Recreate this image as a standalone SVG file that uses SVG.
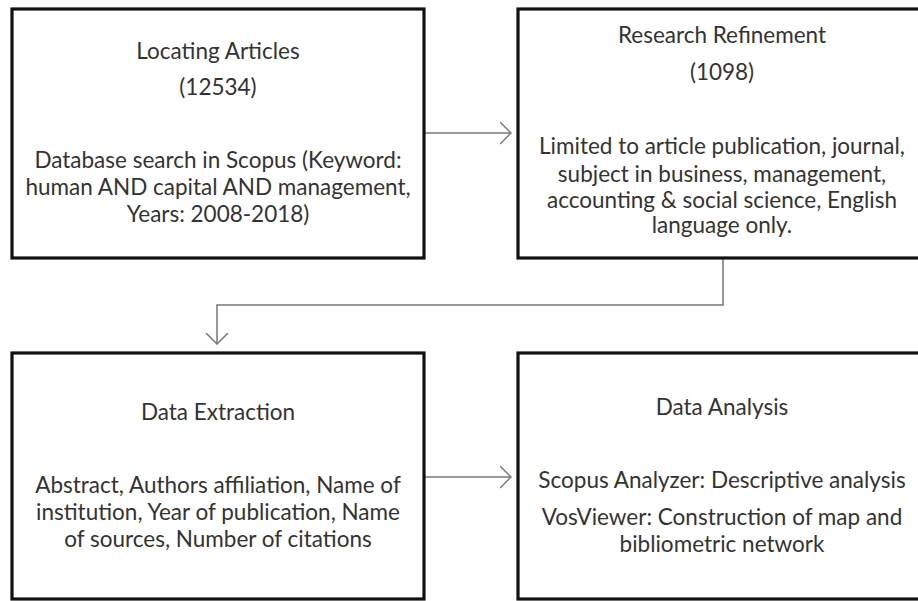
<svg xmlns="http://www.w3.org/2000/svg" width="918" height="601" viewBox="0 0 918 601">
<style>
.box{fill:#ffffff;stroke:#111111;stroke-width:3.2}
.t{font-family:Lato,"Liberation Sans",sans-serif;font-size:22.5px;fill:#333333;text-anchor:middle}
.c{fill:none;stroke:#777777;stroke-width:1.5}
</style>
<defs>
<marker id="ah" viewBox="0 0 12 24" refX="11" refY="12" markerWidth="12" markerHeight="24" markerUnits="userSpaceOnUse" orient="auto">
<path d="M0,1 L11,12 L0,23" fill="none" stroke="#777777" stroke-width="1.5"/>
</marker>
</defs>
<rect width="918" height="601" fill="#ffffff"/>
<g id="connectors">
<path class="c" d="M424,133 L511,133" marker-end="url(#ah)"/>
<path class="c" d="M723,258 L723,305 L217,305 L217,344" marker-end="url(#ah)"/>
<path class="c" d="M424,477 L511,477" marker-end="url(#ah)"/>
</g>
<g id="locating">
<rect class="box" x="12" y="9" width="412" height="249"/>
<text class="t" x="218" y="59">Locating Articles</text>
<text class="t" x="218" y="95">(12534)</text>
<text class="t" x="218" y="168">Database search in Scopus (Keyword:</text>
<text class="t" x="218" y="195">human AND capital AND management,</text>
<text class="t" x="218" y="222">Years: 2008-2018)</text>
</g>
<g id="refinement">
<rect class="box" x="518" y="9" width="410" height="249"/>
<text class="t" x="722" y="43">Research Refinement</text>
<text class="t" x="722" y="80">(1098)</text>
<text class="t" x="722" y="154">Limited to article publication, journal,</text>
<text class="t" x="722" y="182">subject in business, management,</text>
<text class="t" x="722" y="208">accounting &amp; social science, English</text>
<text class="t" x="722" y="233">language only.</text>
</g>
<g id="extraction">
<rect class="box" x="12" y="353" width="412" height="246"/>
<text class="t" x="218" y="420">Data Extraction</text>
<text class="t" x="218" y="493">Abstract, Authors affiliation, Name of</text>
<text class="t" x="218" y="520">institution, Year of publication, Name</text>
<text class="t" x="218" y="547">of sources, Number of citations</text>
</g>
<g id="analysis">
<rect class="box" x="518" y="353" width="410" height="246"/>
<text class="t" x="722" y="415">Data Analysis</text>
<text class="t" x="722" y="488">Scopus Analyzer: Descriptive analysis</text>
<text class="t" x="722" y="525">VosViewer: Construction of map and</text>
<text class="t" x="722" y="552">bibliometric network</text>
</g>
</svg>
